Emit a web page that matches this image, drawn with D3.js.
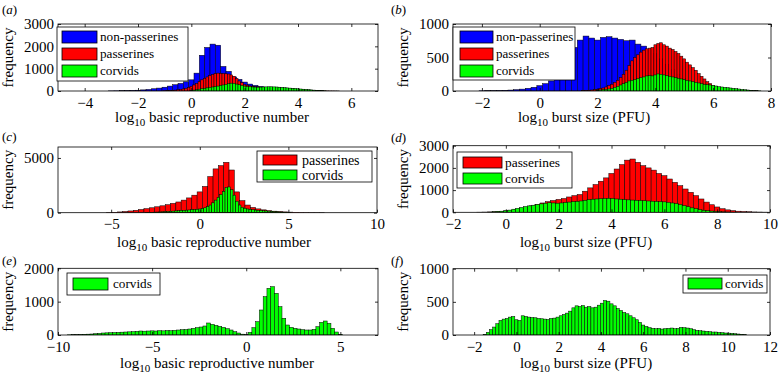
<!DOCTYPE html>
<html><head><meta charset="utf-8">
<script src="https://cdn.jsdelivr.net/npm/d3@7"></script>
<style>
body{margin:0;background:#fff}
text{font-family:"Liberation Serif","Times New Roman",serif;fill:#000}
</style>
</head><body>
<svg id="chart" width="780" height="381"></svg>
<script>
// ---------- DATA (bin counts; bins = [first bin centre, bin width]) ----------
const aNonPassBins = [-3.0, 0.2];
const aNonPass = [5,8,12,18,25,35,50,70,100,130,170,220,280,340,410,500,800,1600,1950,2100,2050,1100,880,630,520,400,310,250,200,170,150,130,110,90,70,50,35,25,15,8];
const aPassBins = [-1.0, 0.1];
const aPass = [10,15,20,30,40,55,70,90,120,160,210,270,340,420,500,570,630,690,740,780,800,790,780,770,760,720,660,560,450,370,300,260,230,210,195,185,175,170,165,160,160,155,150,145,140,130,120,110,100,90,80,70,60,50,42,35,28,22,16,12,8,6,4,3,2,1];
const aCorvBins = [0.0, 0.1];
const aCorv = [20,40,60,80,100,120,140,160,180,200,220,250,270,300,330,350,340,310,280,250,220,200,190,180,175,170,175,180,185,190,190,185,180,170,160,150,140,130,120,110,100,90,80,70,60,50,40,30,20,12,5];

const bNonPassBins = [-2.0, 0.2];
const bNonPass = [3,4,5,7,10,14,20,28,40,55,80,110,150,220,330,480,650,760,820,790,760,800,810,790,770,750,760,700,670,620,560,480,400,320,250,190,140,100,75,55,40,30,22,15,10,6];
const bPassBins = [1.5, 0.1];
const bPass = [5,8,10,15,20,25,35,45,60,80,100,130,160,200,250,310,380,450,500,540,580,610,630,640,650,690,710,720,690,670,640,620,590,560,520,480,430,390,350,310,260,220,180,140,110,85,70,55,45,40,35,30,25,20,15,10,8,6,4,3,2];
const bCorvBins = [2.0, 0.1];
const bCorv = [10,15,20,25,30,40,55,70,90,110,130,150,160,170,185,200,210,225,230,225,240,255,250,240,230,220,210,200,190,180,170,160,150,140,130,120,110,100,95,90,85,75,65,60,55,50,45,40,35,30,25,20,15,10,7,4,2];

const cPassBins = [-5.1, 0.3];
const cPass = [20,40,70,110,160,220,290,370,450,540,630,730,850,980,1150,1350,1600,1900,2400,3300,4000,4300,4600,3900,1900,1100,700,480,350,260,190,140,100,75,55,40,30,20,15,10,5];
const cCorvBins = [-3.0, 0.15];
const cCorv = [20,30,40,50,60,70,85,100,115,130,145,160,180,200,215,230,250,270,290,310,340,380,450,560,700,900,1150,1400,1650,1950,2300,2350,2100,1600,1050,700,500,400,340,300,270,240,220,200,180,160,140,120,100,85,70,55,40,30,20];

const dPassBins = [-1.0, 0.2];
const dPass = [5,10,15,25,40,60,90,130,180,230,290,350,420,480,530,580,620,690,750,800,950,1100,1250,1400,1550,1750,1950,2150,2350,2400,2250,2100,2000,1900,1750,1650,1500,1350,1200,1050,900,750,600,460,340,240,160,110,75,50,35,25,15,10,5];
const dCorvBins = [-0.6, 0.15];
const dCorv = [10,20,35,50,70,100,140,180,220,260,290,320,350,380,410,430,420,410,420,440,460,480,490,510,540,570,590,600,610,620,630,620,600,590,570,560,550,540,530,520,510,500,490,480,470,450,420,390,350,300,250,200,160,120,90,70,55,40,30,20,15,10,5];

const eCorvBins = [-9.4, 0.2];
const eCorv = [5,8,10,15,20,25,30,40,50,60,65,70,75,80,85,90,95,100,110,120,115,120,125,120,130,125,135,130,140,150,160,165,180,200,220,240,270,360,320,290,260,230,190,150,100,60,25,8,80,220,400,750,1150,1400,1450,1250,850,500,300,230,200,180,160,150,150,170,250,380,420,350,200,90,20];

const fCorvBins = [-1.5, 0.15];
const fCorv = [10,40,80,120,170,220,240,250,270,280,230,220,290,280,270,265,260,250,245,240,235,250,255,270,290,310,330,360,410,440,430,445,420,430,410,420,450,480,520,510,470,440,400,370,340,320,290,260,230,190,150,130,110,100,95,100,90,95,100,105,95,100,115,110,105,95,80,70,65,60,55,50,45,45,40,35,30,28,25,20,15,10,5];

// tick values
const aXTicks = [-4,-2,0,2,4,6], aYTicks = [0,1000,2000,3000];
const bXTicks = [-2,0,2,4,6,8], bYTicks = [0,500,1000];
const cXTicks = [-5,0,5,10],    cYTicks = [0,5000];
const dXTicks = [-2,0,2,4,6,8,10], dYTicks = [0,1000,2000,3000];
const eXTicks = [-10,-5,0,5],   eYTicks = [0,1000,2000];
const fXTicks = [-2,0,2,4,6,8,10,12], fYTicks = [0,500,1000];

const names = {np:"non-passerines", p:"passerines", c:"corvids"};
const colors = {np:"#0000ff", p:"#ff0000", c:"#00ff00"};

// ---------- LAYOUT ----------
const panels = [
 {lab:"a", box:[58,24,378,91], xd:[-5,7], yd:[0,3000], xt:aXTicks, yt:aYTicks,
  series:[["np",aNonPassBins,aNonPass],["p",aPassBins,aPass],["c",aCorvBins,aCorv]],
  xlabel:"basic reproductive number", xlx:212, xly:122, labXY:[2,14],
  leg:{x:57,y:27,w:131,h:54,sx:62,sw:35,sh:12,rows:[31,48,65],tx:100,fs:13.2}},
 {lab:"b", box:[453,24,771,91], xd:[-3,8], yd:[0,1000], xt:bXTicks, yt:bYTicks,
  series:[["np",bNonPassBins,bNonPass],["p",bPassBins,bPass],["c",bCorvBins,bCorv]],
  xlabel:"burst size (PFU)", xlx:584, xly:122, labXY:[391,14],
  leg:{x:453,y:27,w:122,h:53,sx:460,sw:33,sh:12,rows:[31,48,65],tx:496,fs:13}},
 {lab:"c", box:[58,147,377,212.7], xd:[-8,10], yd:[0,6000], xt:cXTicks, yt:cYTicks,
  series:[["p",cPassBins,cPass],["c",cCorvBins,cCorv]],
  xlabel:"basic reproductive number", xlx:214, xly:247, labXY:[2,141],
  leg:{x:257,y:151,w:115,h:31,sx:263,sw:34,sh:10,rows:[155,170],tx:302,fs:14}},
 {lab:"d", box:[453,145.7,770,212.3], xd:[-2,10], yd:[0,3000], xt:dXTicks, yt:dYTicks,
  series:[["p",dPassBins,dPass],["c",dCorvBins,dCorv]],
  xlabel:"burst size (PFU)", xlx:586, xly:247, labXY:[391,142],
  leg:{x:457,y:152,w:115,h:36,sx:463,sw:39,sh:11,rows:[157,173],tx:505,fs:13.4}},
 {lab:"e", box:[58,268.3,378,335], xd:[-10,7], yd:[0,2000], xt:eXTicks, yt:eYTicks,
  series:[["c",eCorvBins,eCorv]],
  xlabel:"basic reproductive number", xlx:217, xly:368, labXY:[2,265],
  leg:{x:67,y:273,w:93,h:22,sx:73,sw:35,sh:12,rows:[278],tx:113,fs:13.2}},
 {lab:"f", box:[453,268.7,770,335], xd:[-3,12], yd:[0,1000], xt:fXTicks, yt:fYTicks,
  series:[["c",fCorvBins,fCorv]],
  xlabel:"burst size (PFU)", xlx:586, xly:368, labXY:[391,265],
  leg:{x:683,y:275,w:84,h:18,sx:688,sw:34,sh:11,rows:[278],tx:725,fs:13}}
];

const svg = d3.select("#chart");
const FS = 15;

panels.forEach((p,pi) => {
  const [x0,y0,x1,y1] = p.box;
  const x = d3.scaleLinear().domain(p.xd).range([x0,x1]);
  const y = d3.scaleLinear().domain(p.yd).range([y1,y0]);
  const g = svg.append("g");
  const cid = "clip"+pi;
  svg.append("clipPath").attr("id",cid).append("rect")
     .attr("x",x0).attr("y",y0).attr("width",x1-x0).attr("height",y1-y0);
  const plot = g.append("g").attr("clip-path",`url(#${cid})`);

  p.series.forEach(([key,bins,counts]) => {
    const [start,step] = bins;
    const data = counts.map((v,i)=>({c:start+i*step, v}));
    plot.append("g").selectAll("rect").data(data).join("rect")
      .attr("x", d=>x(d.c-step/2))
      .attr("width", d=>x(d.c+step/2)-x(d.c-step/2))
      .attr("y", d=>y(d.v))
      .attr("height", d=>y(0)-y(d.v))
      .attr("fill", colors[key])
      .attr("stroke","#000").attr("stroke-width",0.5);
  });

  const fmt = d3.format("d");
  const styleAxis = a => { a.select(".domain").remove(); a.selectAll("line").attr("stroke","#000").attr("stroke-width",0.8);
     a.attr("font-family",null).attr("font-size",null);
     a.selectAll("text").attr("font-size",FS).attr("font-family",'"Liberation Serif",serif'); };
  g.append("g").attr("transform",`translate(0,${y1})`)
    .call(d3.axisBottom(x).tickValues(p.xt).tickFormat(fmt).tickSizeInner(-3).tickSizeOuter(0).tickPadding(6))
    .call(styleAxis);
  g.append("g").attr("transform",`translate(0,${y0})`)
    .call(d3.axisTop(x).tickValues(p.xt).tickFormat("").tickSizeInner(-3).tickSizeOuter(0))
    .call(styleAxis);
  g.append("g").attr("transform",`translate(${x0},0)`)
    .call(d3.axisLeft(y).tickValues(p.yt).tickFormat(fmt).tickSizeInner(-3).tickSizeOuter(0).tickPadding(4))
    .call(styleAxis);
  g.append("g").attr("transform",`translate(${x1},0)`)
    .call(d3.axisRight(y).tickValues(p.yt).tickFormat("").tickSizeInner(-3).tickSizeOuter(0))
    .call(styleAxis);

  g.append("rect").attr("x",x0).attr("y",y0).attr("width",x1-x0).attr("height",y1-y0)
    .attr("fill","none").attr("stroke","#000").attr("stroke-width",0.8);

  // legend
  const L = p.leg;
  const lg = g.append("g");
  lg.append("rect").attr("x",L.x).attr("y",L.y).attr("width",L.w).attr("height",L.h)
    .attr("fill","#fff").attr("stroke","#000").attr("stroke-width",0.8);
  p.series.forEach(([key],i) => {
    lg.append("rect").attr("x",L.sx).attr("y",L.rows[i]).attr("width",L.sw).attr("height",L.sh)
      .attr("fill",colors[key]).attr("stroke","#000").attr("stroke-width",0.8);
    lg.append("text").attr("x",L.tx).attr("y",L.rows[i]+L.sh/2).attr("dy","0.33em")
      .attr("font-size",L.fs).text(names[key]);
  });

  // x label with subscript
  const t = g.append("text").attr("x",p.xlx).attr("y",p.xly).attr("text-anchor","middle").attr("font-size",FS);
  t.append("tspan").text("log");
  t.append("tspan").attr("dy",4).attr("font-size",11).text("10");
  t.append("tspan").attr("dy",-4).text(" "+p.xlabel);

  // y label
  g.append("text").attr("transform",`translate(${x0-45},${(y0+y1)/2}) rotate(-90)`)
    .attr("text-anchor","middle").attr("font-size",FS).text("frequency");

  // panel label
  const pl = g.append("text").attr("x",p.labXY[0]).attr("y",p.labXY[1]).attr("font-size",13);
  pl.append("tspan").text("(");
  pl.append("tspan").attr("font-style","italic").text(p.lab);
  pl.append("tspan").text(")");
});
</script>
</body></html>
